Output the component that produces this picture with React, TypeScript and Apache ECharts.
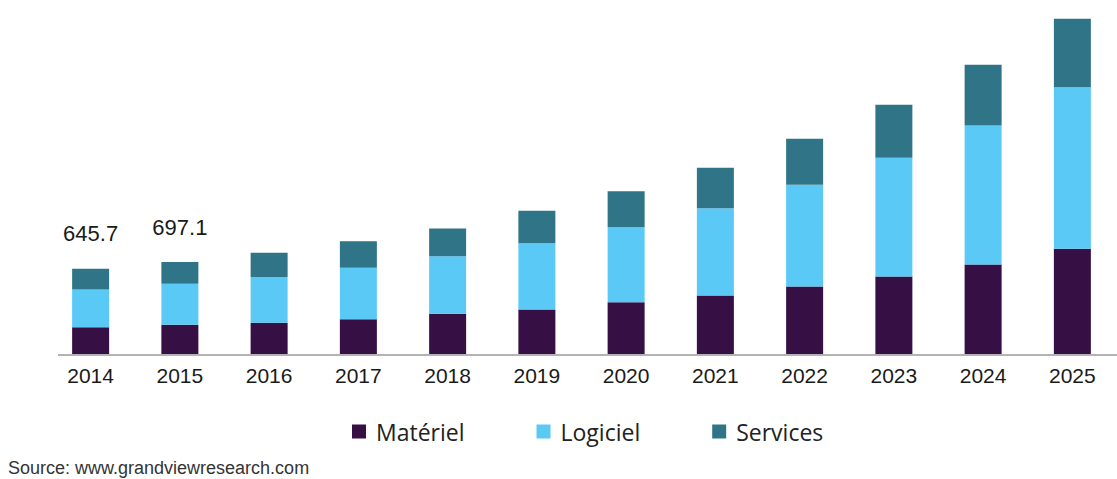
import React, { useEffect, useRef } from "react";
import * as echarts from "echarts";

const years = ["2014", "2015", "2016", "2017", "2018", "2019", "2020", "2021", "2022", "2023", "2024", "2025"];
const materiel = [203.2, 221.8, 236.7, 264.0, 304.9, 337.5, 392.1, 443.7, 512.0, 587.8, 678.9, 797.9];
const logiciel = [285.9, 311.3, 347.4, 389.9, 436.9, 502.9, 569.6, 662.2, 771.4, 900.3, 1054.3, 1225.7];
const services = [156.6, 164.0, 184.3, 201.8, 210.1, 245.8, 272.3, 306.4, 348.9, 402.0, 460.4, 518.8];
const totalLabels = ["645.7", "697.1", "", "", "", "", "", "", "", "", "", ""];
const seriesNames = ["Matériel", "Logiciel", "Services"];
const colors = ["#360f45", "#5bc9f5", "#307587"];
const sourceText = "Source: www.grandviewresearch.com";

export default function App() {
  const ref = useRef<HTMLDivElement>(null);
  useEffect(() => {
    if (!ref.current) return;
    const chart = echarts.init(ref.current, null, { renderer: "svg" });
    const barW = 37;
    chart.setOption({
      animation: false,
      grid: { left: 46, width: 1079, top: 11.2, height: 342.8 },
      xAxis: {
        type: "category",
        data: years,
        axisLine: { show: false },
        axisTick: { show: false },
        axisLabel: { color: "#1a1a1a", fontSize: 21, fontFamily: "Liberation Sans", margin: 11 },
      },
      yAxis: { type: "value", min: 0, max: 2600, show: false, splitLine: { show: false } },
      legend: {
        data: seriesNames,
        left: 347,
        top: 415,
        itemWidth: 14,
        itemHeight: 14,
        itemGap: 72,
        icon: "rect",
        textStyle: { fontFamily: "Open Sans", fontSize: 23, color: "#222", padding: [0, 0, 0, 5] },
      },
      graphic: [
        {
          type: "line",
          shape: { x1: 58, y1: 355, x2: 1117, y2: 355 },
          style: { stroke: "#9a9a9a", lineWidth: 1.5 },
          silent: true,
        },
        {
          type: "text",
          left: 8,
          top: 459,
          style: { text: sourceText, fill: "#333", font: "18px 'Liberation Sans'" },
        },
      ],
      series: [
        { name: seriesNames[0], type: "bar", stack: "t", data: materiel, barWidth: barW, itemStyle: { color: colors[0] } },
        { name: seriesNames[1], type: "bar", stack: "t", data: logiciel, barWidth: barW, itemStyle: { color: colors[1] } },
        {
          name: seriesNames[2],
          type: "bar",
          stack: "t",
          data: services,
          barWidth: barW,
          itemStyle: { color: colors[2] },
          label: {
            show: true,
            position: "top",
            distance: 24,
            color: "#1a1a1a",
            fontSize: 22,
            fontFamily: "Liberation Sans",
            formatter: (p: any) => totalLabels[p.dataIndex],
          },
        },
      ],
    });
    return () => chart.dispose();
  }, []);
  return <div ref={ref} style={{ position: "absolute", left: 0, top: 0, width: 1117, height: 479 }} />;
}
